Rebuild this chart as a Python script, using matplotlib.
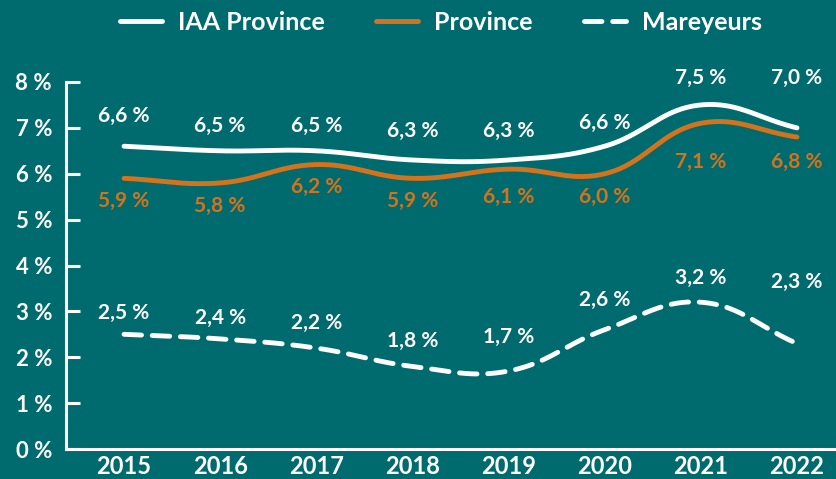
import numpy as np
import matplotlib
matplotlib.use('Agg')
import matplotlib.pyplot as plt

years = [2015, 2016, 2017, 2018, 2019, 2020, 2021, 2022]
iaa_province = [6.6, 6.5, 6.5, 6.3, 6.3, 6.6, 7.5, 7.0]
province = [5.9, 5.8, 6.2, 5.9, 6.1, 6.0, 7.1, 6.8]
mareyeurs = [2.5, 2.4, 2.2, 1.8, 1.7, 2.6, 3.2, 2.3]

# label offsets in pixels (vertical)
iaa_off = [30, 25, 25, 29, 29, 23, 27, 50]
prov_off = [-23, -23, -22, -23, -28, -23, -39, -25]
mar_off = [21, 21, 25, 25, 34, 30, 24, 62]

bg = '#006b6e'
orange = '#d4731c'
white = 'white'

plt.rcParams['font.family'] = ['Lato', 'DejaVu Sans']
plt.rcParams['font.weight'] = 'bold'


def smooth(x, y, t=0.4, n=40, sx=96.1, sy=45.9):
    # bezier spline with tension, like chart.js lines
    P = np.column_stack([np.asarray(x, float), np.asarray(y, float)])
    k = len(P)
    cp_prev = np.zeros_like(P)
    cp_next = np.zeros_like(P)
    for i in range(k):
        prev = P[i - 1] if i > 0 else P[i]
        nxt = P[i + 1] if i < k - 1 else P[i]
        d01 = np.hypot((P[i, 0] - prev[0]) * sx, (P[i, 1] - prev[1]) * sy)
        d12 = np.hypot((nxt[0] - P[i, 0]) * sx, (nxt[1] - P[i, 1]) * sy)
        tot = d01 + d12
        fa = t * d01 / tot
        fb = t * d12 / tot
        cp_prev[i] = P[i] - fa * (nxt - prev)
        cp_next[i] = P[i] + fb * (nxt - prev)
    out = []
    for i in range(k - 1):
        s = np.linspace(0, 1, n)[:, None]
        b = ((1 - s)**3 * P[i] + 3 * (1 - s)**2 * s * cp_next[i]
             + 3 * (1 - s) * s**2 * cp_prev[i + 1] + s**3 * P[i + 1])
        out.append(b)
    out = np.vstack(out)
    return out[:, 0], out[:, 1]


fig = plt.figure(figsize=(8.37, 4.79), dpi=100, facecolor=bg)
ax = fig.add_axes([66 / 837, 30 / 479, 1 - 66 / 837, (449 - 82) / 479])
ax.set_facecolor(bg)

lw = 3.5
x, y = smooth(years, iaa_province)
ax.plot(x, y, color=white, lw=lw, solid_capstyle='round', label='IAA Province', clip_on=False)
x, y = smooth(years, province)
ax.plot(x, y, color=orange, lw=lw, solid_capstyle='round', label='Province', clip_on=False)
x, y = smooth(years, mareyeurs)
ax.plot(x, y, color=white, lw=lw, dashes=(3.6, 2.2), dash_capstyle='round', label='Mareyeurs', clip_on=False)


def fmt(v):
    return ('%.1f %%' % v).replace('.', ',')


for vals, offs, col in [(iaa_province, iaa_off, white), (province, prov_off, orange),
                        (mareyeurs, mar_off, white)]:
    for yr, v, o in zip(years, vals, offs):
        ax.annotate(fmt(v), (yr, v), xytext=(0, o * 0.72), textcoords='offset points',
                    ha='center', va='center', color=col, fontsize=15, fontweight='bold')

ax.set_xlim(2015 - 58 / 96.1, 2022 + 40 / 96.1)
ax.set_ylim(0, 8)
ax.set_xticks(years)
ax.set_xticklabels([str(yr) for yr in years])
ax.set_yticks(range(9))
ax.set_yticklabels(['%d %%' % i for i in range(9)])

for s in ['top', 'right']:
    ax.spines[s].set_visible(False)
for s in ['left', 'bottom']:
    ax.spines[s].set_color(white)
    ax.spines[s].set_linewidth(2.2)
ax.tick_params(axis='y', direction='in', length=10, width=2.2, color=white,
               labelcolor=white, labelsize=16, pad=10)
ax.tick_params(axis='x', length=0, labelcolor=white, labelsize=17, pad=4)
for lab in ax.get_xticklabels() + ax.get_yticklabels():
    lab.set_fontweight('bold')

leg = fig.legend(loc='center', bbox_to_anchor=(0.527, 1 - 22 / 479), ncol=3, frameon=False,
                 handlelength=1.67, columnspacing=2.07, handletextpad=0.64,
                 labelcolor=white, prop={'weight': 'bold', 'size': 18})

fig.savefig('out.png', dpi=100, facecolor=bg)
